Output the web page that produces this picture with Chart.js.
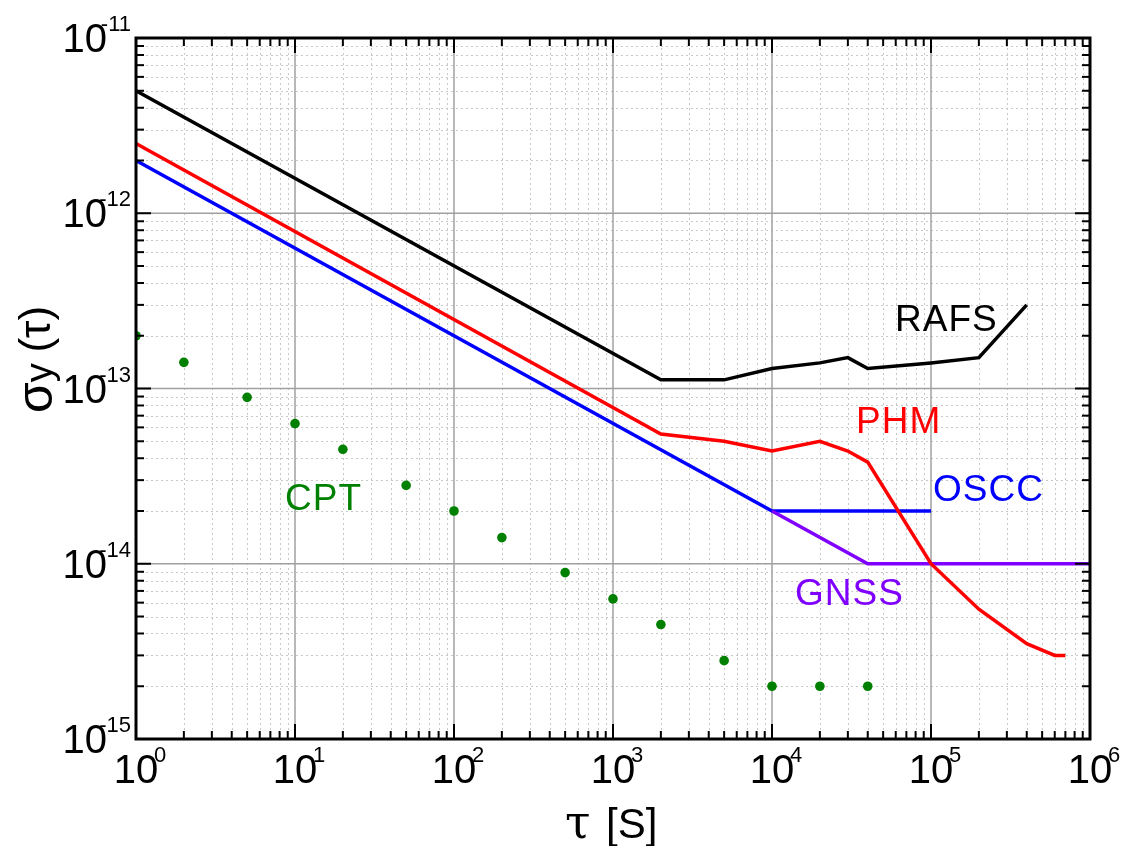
<!DOCTYPE html>
<html>
<head>
<meta charset="utf-8">
<script src="https://cdn.jsdelivr.net/npm/chart.js@4/dist/chart.umd.min.js"></script>
<style>
    body { margin: 0; background: #fff; }
    #wrap { width: 1123px; height: 846px; }
</style>
</head>
<body>
<div id="wrap"><canvas id="allan" width="1123" height="846"></canvas></div>
<script>
// tau [s] and sigma_y values
const rafs_tau   = [1, 2000, 5000, 1e4, 2e4, 3e4, 4e4, 1e5, 2e5, 4e5];
const rafs_sigma = [5e-12, 1.12e-13, 1.12e-13, 1.3e-13, 1.4e-13, 1.5e-13, 1.3e-13, 1.4e-13, 1.5e-13, 3e-13];

const phm_tau   = [1, 2000, 5000, 1e4, 2e4, 3e4, 4e4, 1e5, 2e5, 4e5, 6e5, 7e5];
const phm_sigma = [2.5e-12, 5.5e-14, 5e-14, 4.4e-14, 5e-14, 4.4e-14, 3.8e-14, 1e-14, 5.5e-15, 3.5e-15, 3e-15, 3e-15];

const oscc_tau   = [1, 1e4, 1e5];
const oscc_sigma = [2e-12, 2e-14, 2e-14];

const gnss_tau   = [1e4, 4e4, 1e6];
const gnss_sigma = [2e-14, 1e-14, 1e-14];

const cpt_tau   = [1, 2, 5, 10, 20, 50, 100, 200, 500, 1000, 2000, 5000, 1e4, 2e4, 4e4];
const cpt_sigma = [2e-13, 1.41e-13, 8.9e-14, 6.3e-14, 4.5e-14, 2.8e-14, 2e-14, 1.41e-14, 8.9e-15, 6.3e-15, 4.5e-15, 2.8e-15, 2e-15, 2e-15, 2e-15];

// decade exponents for tick labels
const x_exponents = [0, 1, 2, 3, 4, 5, 6];
const y_exponents = [-15, -14, -13, -12, -11];

const series_names = ['RAFS', 'PHM', 'OSCC', 'GNSS', 'CPT'];

function pts(xs, ys)
{
    return xs.map((x, i) => ({ 'x': x, 'y': ys[i] }));
}

function lineSet(label, xs, ys, color)
{
    return {
        'label': label,
        'data': pts(xs, ys),
        'borderColor': color,
        'backgroundColor': color,
        'borderWidth': 3.5,
        'pointRadius': 0,
        'tension': 0
    };
}

const datasets = [
    lineSet('RAFS', rafs_tau, rafs_sigma, '#000000'),
    lineSet('PHM', phm_tau, phm_sigma, '#ff0000'),
    lineSet('GNSS', gnss_tau, gnss_sigma, '#8000ff'),
    lineSet('OSCC', oscc_tau, oscc_sigma, '#0000ff'),
    {
        'label': 'CPT',
        'data': pts(cpt_tau, cpt_sigma),
        'showLine': false,
        'pointRadius': 4.8,
        'pointBorderWidth': 0,
        'backgroundColor': '#008000',
        'borderColor': '#008000'
    }
];

//Grid, ticks, frame and all texts drawn with the chart's own scales
const axesPlugin = {
    id: 'axesPlugin',
    beforeDatasetsDraw(chart)
    {
        const ctx = chart.ctx;
        const xs = chart.scales.x, ys = chart.scales.y;
        const a = chart.chartArea;
        ctx.save();
        //minor grid
        ctx.strokeStyle = '#c8c8c8';
        ctx.lineWidth = 1;
        ctx.setLineDash([2, 3]);
        for (let e = 0; e < 6; e++) {
            for (let m = 2; m <= 9; m++) {
                const px = Math.round(xs.getPixelForValue(m * Math.pow(10, e))) + 0.5;
                ctx.beginPath(); ctx.moveTo(px, a.top); ctx.lineTo(px, a.bottom); ctx.stroke();
            }
        }
        for (let e = -15; e < -11; e++) {
            for (let m = 2; m <= 9; m++) {
                const py = Math.round(ys.getPixelForValue(m * Math.pow(10, e))) + 0.5;
                ctx.beginPath(); ctx.moveTo(a.left, py); ctx.lineTo(a.right, py); ctx.stroke();
            }
        }
        //major grid
        ctx.setLineDash([]);
        ctx.strokeStyle = '#a0a0a0';
        ctx.lineWidth = 1.5;
        x_exponents.forEach((e) => {
            const px = xs.getPixelForValue(Math.pow(10, e));
            ctx.beginPath(); ctx.moveTo(px, a.top); ctx.lineTo(px, a.bottom); ctx.stroke();
        });
        y_exponents.forEach((e) => {
            const py = ys.getPixelForValue(Math.pow(10, e));
            ctx.beginPath(); ctx.moveTo(a.left, py); ctx.lineTo(a.right, py); ctx.stroke();
        });
        ctx.restore();
    },
    afterDatasetsDraw(chart)
    {
        const ctx = chart.ctx;
        const xs = chart.scales.x, ys = chart.scales.y;
        const a = chart.chartArea;
        ctx.save();
        //inward ticks on all four sides
        ctx.strokeStyle = '#000';
        ctx.lineWidth = 2;
        const tickX = (v, len) => {
            const px = xs.getPixelForValue(v);
            ctx.beginPath(); ctx.moveTo(px, a.bottom); ctx.lineTo(px, a.bottom - len); ctx.stroke();
            ctx.beginPath(); ctx.moveTo(px, a.top); ctx.lineTo(px, a.top + len); ctx.stroke();
        };
        const tickY = (v, len) => {
            const py = ys.getPixelForValue(v);
            ctx.beginPath(); ctx.moveTo(a.left, py); ctx.lineTo(a.left + len, py); ctx.stroke();
            ctx.beginPath(); ctx.moveTo(a.right, py); ctx.lineTo(a.right - len, py); ctx.stroke();
        };
        for (let e = 0; e < 6; e++) {
            tickX(Math.pow(10, e), 15);
            for (let m = 2; m <= 9; m++) tickX(m * Math.pow(10, e), 8);
        }
        for (let e = -15; e < -11; e++) {
            tickY(Math.pow(10, e), 15);
            for (let m = 2; m <= 9; m++) tickY(m * Math.pow(10, e), 8);
        }
        //frame
        ctx.lineWidth = 3;
        ctx.strokeRect(a.left, a.top, a.right - a.left, a.bottom - a.top);

        //tick labels
        ctx.fillStyle = '#000';
        x_exponents.forEach((e) => {
            const px = xs.getPixelForValue(Math.pow(10, e));
            ctx.font = '40px "Liberation Sans"';
            ctx.textAlign = 'center';
            ctx.textBaseline = 'alphabetic';
            ctx.fillText('10', px, 783);
            ctx.font = '22px "Liberation Sans"';
            ctx.textAlign = 'left';
            ctx.fillText(String(e), px + 18, 762);
        });
        y_exponents.forEach((e) => {
            const py = ys.getPixelForValue(Math.pow(10, e));
            ctx.font = '22px "Liberation Sans"';
            ctx.textAlign = 'right';
            ctx.textBaseline = 'alphabetic';
            ctx.fillText(String(e), 131, py - 7);
            ctx.font = '40px "Liberation Sans"';
            ctx.fillText('10', 107, py + 14);
        });

        //axis titles
        ctx.textAlign = 'left';
        ctx.textBaseline = 'alphabetic';
        ctx.font = '46px "DejaVu Serif"';
        ctx.fillText('\u03c4', 565, 838);
        ctx.font = '42px "Liberation Sans"';
        ctx.fillText('[S]', 606, 838);

        ctx.save();
        ctx.translate(52, 413);
        ctx.rotate(-Math.PI / 2);
        ctx.font = '50px "Liberation Sans"';
        ctx.fillText('\u03c3', 0, 0);
        let w = ctx.measureText('\u03c3').width;
        ctx.font = '38px "Liberation Sans"';
        ctx.fillText('y', w, 0);
        w += ctx.measureText('y ').width;
        ctx.font = '44px "Liberation Sans"';
        ctx.fillText('(\u03c4)', w, -2);
        ctx.restore();

        //series labels
        const lab = [
            [series_names[0], '#000000', 895, 331],
            [series_names[1], '#ff0000', 856, 433],
            [series_names[2], '#0000ff', 933, 501],
            [series_names[3], '#8000ff', 795, 605],
            [series_names[4], '#008000', 285, 510]
        ];
        ctx.font = '37px "Liberation Sans"';
        ctx.letterSpacing = '1px';
        lab.forEach((l) => {
            ctx.fillStyle = l[1];
            ctx.fillText(l[0], l[2], l[3]);
        });
        ctx.restore();
    }
};

const options = {
    responsive: false,
    animation: false,
    layout: { padding: { left: 136, top: 38, right: 33, bottom: 107 } },
    plugins: { legend: { display: false }, tooltip: { enabled: false } },
    scales: {
        x: { type: 'logarithmic', min: 1, max: 1e6, display: false },
        y: { type: 'logarithmic', min: 1e-15, max: 1e-11, display: false }
    }
};

new Chart(document.getElementById('allan').getContext('2d'), {
    'type': 'line',
    'data': { 'datasets': datasets },
    'options': options,
    'plugins': [axesPlugin]
});
</script>
</body>
</html>
